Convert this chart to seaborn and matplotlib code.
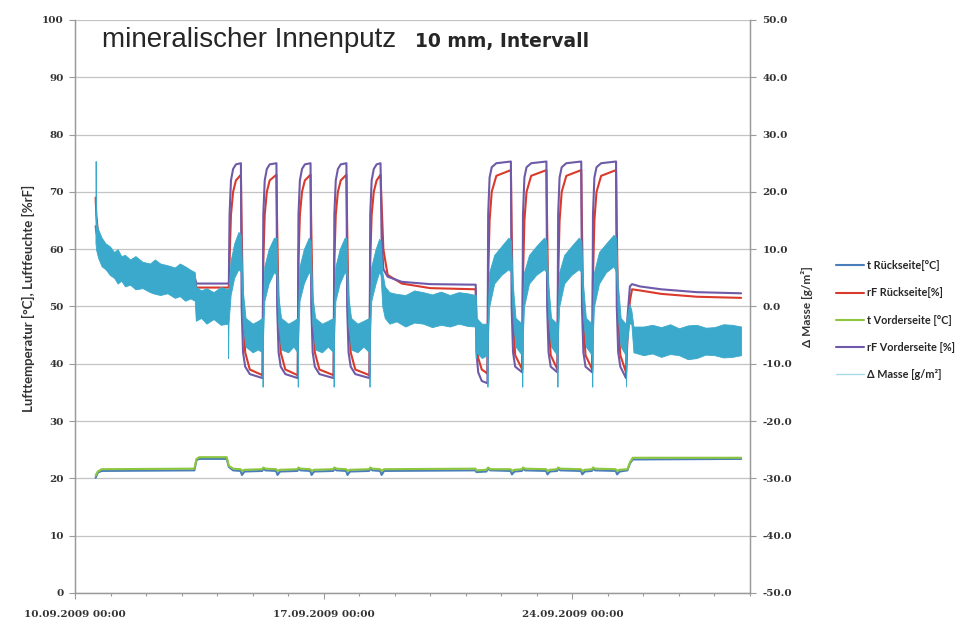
import matplotlib
matplotlib.use("Agg")
import matplotlib.pyplot as plt
import matplotlib.dates as mdates
from matplotlib.lines import Line2D
from matplotlib.ticker import FixedLocator, FormatStrFormatter, MultipleLocator
import pandas as pd
import seaborn as sns

# time in days after 10.09.2009 00:00
rf_days = [0.58, 0.60, 0.65, 0.75, 0.98, 1.41, 2.11, 2.81, 3.37, 3.42, 4.31,
           4.33, 4.35, 4.39, 4.45, 4.53, 4.67, 4.69, 4.73, 4.79, 4.92,
           5.28, 5.30, 5.34, 5.40, 5.48, 5.67, 5.69, 5.73, 5.79, 5.92,
           6.27, 6.29, 6.33, 6.39, 6.47, 6.63, 6.65, 6.69, 6.75, 6.88,
           7.28, 7.30, 7.34, 7.40, 7.48, 7.64, 7.66, 7.70, 7.76, 7.89,
           8.29, 8.31, 8.35, 8.41, 8.49, 8.60, 8.63, 8.68, 8.80, 9.20, 10.00, 11.28,
           11.30, 11.35, 11.45,
           11.61, 11.63, 11.67, 11.73, 11.86, 12.27, 12.29, 12.33, 12.39,
           12.59, 12.61, 12.65, 12.71, 12.84, 13.27, 13.29, 13.33, 13.39,
           13.58, 13.60, 13.64, 13.70, 13.83, 14.25, 14.27, 14.31, 14.37,
           14.56, 14.58, 14.62, 14.68, 14.81, 15.23, 15.25, 15.29, 15.35,
           15.51, 15.55, 15.62, 15.68, 15.90, 16.50, 17.50, 18.75]

rf_front = [64.0, 63.0, 61.5, 60.0, 58.8, 57.4, 56.2, 55.4, 55.0, 54.0, 54.0,
            54.0, 66.0, 72.0, 74.0, 74.8, 75.0, 50.0, 42.0, 39.5, 38.2,
            37.5, 66.0, 72.0, 74.0, 74.8, 75.0, 50.0, 42.0, 39.5, 38.2,
            37.5, 66.0, 72.0, 74.0, 74.8, 75.0, 50.0, 42.0, 39.5, 38.2,
            37.5, 66.0, 72.0, 74.0, 74.8, 75.0, 50.0, 42.0, 39.5, 38.2,
            37.5, 66.0, 72.0, 74.0, 74.8, 75.0, 62.0, 56.5, 55.2, 54.3, 53.9, 53.8,
            42.0, 38.5, 37.0,
            36.6, 66.0, 72.5, 74.3, 75.0, 75.3, 50.0, 42.0, 39.5,
            38.5, 66.0, 72.5, 74.3, 75.0, 75.3, 50.0, 42.0, 39.5,
            38.5, 66.0, 72.5, 74.3, 75.0, 75.3, 50.0, 42.0, 39.5,
            38.5, 66.0, 72.5, 74.3, 75.0, 75.3, 50.0, 42.0, 39.5,
            37.5, 48.0, 53.5, 53.9, 53.5, 53.0, 52.5, 52.3]

rf_back = [69.0, 66.0, 62.5, 60.5, 59.0, 57.4, 56.0, 55.2, 54.7, 53.3, 53.3,
           53.3, 58.0, 66.0, 70.0, 72.0, 73.0, 64.0, 50.0, 42.0, 39.0,
           38.0, 58.0, 66.0, 70.0, 72.0, 73.0, 64.0, 50.0, 42.0, 39.0,
           38.0, 58.0, 66.0, 70.0, 72.0, 73.0, 64.0, 50.0, 42.0, 39.0,
           38.0, 58.0, 66.0, 70.0, 72.0, 73.0, 64.0, 50.0, 42.0, 39.0,
           38.0, 58.0, 66.0, 70.0, 72.0, 73.0, 68.0, 60.0, 55.5, 54.0, 53.2, 53.0,
           48.0, 41.0, 39.0,
           38.3, 55.0, 65.0, 70.0, 72.8, 73.8, 64.0, 48.0, 41.5,
           39.0, 55.0, 65.0, 70.0, 72.8, 73.8, 64.0, 48.0, 41.5,
           39.0, 55.0, 65.0, 70.0, 72.8, 73.8, 64.0, 48.0, 41.5,
           39.0, 55.0, 65.0, 70.0, 72.8, 73.8, 64.0, 48.0, 41.5,
           38.5, 44.0, 51.0, 53.0, 52.8, 52.2, 51.7, 51.5]

temp_days = [0.58, 0.64, 0.75, 3.36, 3.42, 3.50, 4.27, 4.33, 4.45,
             4.66, 4.70, 4.77, 5.27, 5.30, 5.36,
             5.66, 5.70, 5.77, 6.26, 6.29, 6.35,
             6.62, 6.66, 6.73, 7.27, 7.30, 7.36,
             7.63, 7.67, 7.74, 8.28, 8.31, 8.37,
             8.59, 8.63, 8.70, 11.27, 11.30, 11.58, 11.63, 11.69,
             12.26, 12.30, 12.37, 12.58, 12.61, 12.67,
             13.26, 13.30, 13.37, 13.57, 13.60, 13.66,
             14.24, 14.28, 14.35, 14.55, 14.58, 14.64,
             15.22, 15.26, 15.33, 15.55, 15.62, 15.70, 18.75]

t_back = [20.1, 21.0, 21.3, 21.4, 23.2, 23.4, 23.4, 22.0, 21.4,
          21.3, 20.6, 21.2, 21.3, 21.7, 21.4,
          21.3, 20.6, 21.2, 21.3, 21.7, 21.4,
          21.3, 20.6, 21.2, 21.3, 21.7, 21.4,
          21.3, 20.6, 21.2, 21.3, 21.7, 21.4,
          21.3, 20.6, 21.3, 21.4, 21.1, 21.2, 21.7, 21.4,
          21.3, 20.7, 21.2, 21.3, 21.7, 21.4,
          21.3, 20.7, 21.2, 21.3, 21.7, 21.4,
          21.3, 20.7, 21.2, 21.3, 21.7, 21.4,
          21.3, 20.7, 21.2, 21.4, 22.6, 23.3, 23.4]

t_front = [20.5, 21.2, 21.6, 21.7, 23.4, 23.7, 23.7, 22.2, 21.7,
           21.6, 21.3, 21.5, 21.6, 21.9, 21.7,
           21.6, 21.3, 21.5, 21.6, 21.9, 21.7,
           21.6, 21.3, 21.5, 21.6, 21.9, 21.7,
           21.6, 21.3, 21.5, 21.6, 21.9, 21.7,
           21.6, 21.3, 21.6, 21.7, 21.4, 21.5, 21.9, 21.6,
           21.6, 21.3, 21.5, 21.6, 21.9, 21.7,
           21.6, 21.3, 21.5, 21.6, 21.9, 21.7,
           21.6, 21.3, 21.5, 21.6, 21.9, 21.7,
           21.6, 21.3, 21.5, 21.6, 22.8, 23.6, 23.6]

# delta mass [g/m2]: lower and upper edge of the noisy trace
mass_days = [0.575, 0.58, 0.59, 0.65, 0.75, 0.86, 0.98, 1.10, 1.20, 1.30, 1.41, 1.55, 1.70, 1.90, 2.11, 2.25, 2.40, 2.60,
             2.81, 2.95, 3.10, 3.25, 3.37, 3.40, 3.55, 3.70, 3.90, 4.10, 4.30, 4.31, 4.32,
             4.38, 4.48, 4.60, 4.67, 4.72, 4.80, 5.00, 5.15, 5.27, 5.28,
             5.29, 5.33, 5.45, 5.60, 5.67, 5.72, 5.80, 6.00, 6.15, 6.26, 6.27,
             6.28, 6.32, 6.44, 6.58, 6.63, 6.68, 6.76, 6.95, 7.12, 7.27, 7.28,
             7.29, 7.33, 7.45, 7.59, 7.64, 7.69, 7.77, 7.95, 8.12, 8.28, 8.29,
             8.30, 8.34, 8.46, 8.56, 8.60, 8.65, 8.72, 8.85, 9.05, 9.30, 9.55, 9.80, 10.05, 10.30,
             10.55, 10.80, 11.05, 11.27, 11.28,
             11.30, 11.45, 11.60, 11.61,
             11.62, 11.66, 11.80, 12.00, 12.20, 12.27, 12.32, 12.40, 12.58, 12.59,
             12.60, 12.64, 12.78, 12.98, 13.20, 13.27, 13.32, 13.40, 13.57, 13.58,
             13.59, 13.63, 13.77, 13.97, 14.18, 14.25, 14.30, 14.38, 14.55, 14.56,
             14.57, 14.61, 14.75, 14.95, 15.16, 15.23, 15.28, 15.36, 15.50, 15.51,
             15.53, 15.60, 15.66, 15.72, 16.00, 16.25, 16.50, 16.75, 17.00, 17.25, 17.50, 17.75,
             18.00, 18.25, 18.50, 18.75]

mass_lo = [11, 11, 10, 8.5, 7, 6.5, 5.5, 5, 4, 4.5, 3.5, 3.8, 3, 3.2, 2.5, 2.2, 2, 2.3,
           1.5, 1.8, 1, 1.4, 1, -2.5, -2, -3, -2.2, -3.2, -3, -9, -3,
           2, 5, 6.5, 6, -3, -7, -8, -7.5, -8, -14,
           -6, 1, 4, 6, 5.5, -3, -7.5, -8, -7, -8, -14,
           -6, 1, 4, 6, 5.5, -3, -7.5, -8, -7, -8, -14,
           -6, 1, 4, 6, 5.5, -3, -7.5, -8, -7, -8, -14,
           -6, 1, 4, 6, 5.5, 0, -2, -3, -2.6, -3.5, -2.8, -3, -3.6, -3.2,
           -3.5, -3, -3.4, -3.5, -9,
           -8, -9, -8.5, -14,
           -6, 0, 4, 5.5, 6.5, 6, -2, -7, -8.5, -14,
           -6, 0, 4, 5.5, 6.5, 6, -2, -7, -8.5, -14,
           -6, 0, 4, 5.5, 6.5, 6, -2, -7, -8.5, -14,
           -6, 0, 4, 6, 7, 6, -2, -7, -8.5, -14,
           -7, -3, -3, -8, -8.5, -8.2, -8.8, -8.3, -8.5, -9.2, -9, -8.4,
           -8.5, -8.9, -8.8, -8.5]

mass_hi = [12, 25.4, 15, 13.5, 12, 11, 10.5, 9.5, 10, 8.8, 9, 8.2, 8.8, 7.8, 7.5, 8.2, 7.5, 7.2,
           6.8, 7.5, 7, 6.4, 6, 3.5, 2.8, 3.2, 2.5, 3.4, 3, 3, 3,
           8, 11, 13, 12.5, 3, -2, -3, -2.5, -2, -2,
           0, 7, 10, 12, 12, 2, -2, -3, -2.5, -2, -2,
           0, 7, 10, 12, 11.5, 2, -2, -3, -2.5, -2, -2,
           0, 7, 10, 12, 12, 2, -2, -3, -2.5, -2, -2,
           0, 7, 10, 11.8, 11.5, 6, 3.5, 2.5, 2.2, 2, 2.8, 2.5, 2.1, 2.6,
           2, 2.5, 2.3, 2, 2,
           -2, -3, -3, -3,
           0, 6, 9, 10.5, 12, 11.5, 4, -2, -3, -3,
           0, 6, 9, 10.5, 12, 11.5, 4, -2, -3, -3,
           0, 6, 9, 10.5, 12, 11.5, 4, -2, -3, -3,
           0, 6, 9.5, 11, 12.5, 12, 4, -2, -3, -3,
           -2, 0.5, -0.6, -3.5, -3.5, -3.2, -3.6, -3.1, -3.8, -3.3, -3.2, -3.7,
           -3.6, -3.1, -3.2, -3.5]

series_names = ['t Rückseite[°C]', 'rF Rückseite[%]', 't Vorderseite [°C]', 'rF Vorderseite [%]']
mass_name = 'Δ Masse [g/m²]'
colors = ['#4a7ebb', '#d93a2b', '#8cc63e', '#6e5aa8']
mass_color = '#3aa9cb'
xtick_dates = ['2009-09-10', '2009-09-17', '2009-09-24']

sns.set_theme(style='ticks')
plt.rcParams['axes.unicode_minus'] = False

start = pd.Timestamp('2009-09-10')


def to_time(days):
    return start + pd.to_timedelta(days, unit='D')


rf = pd.DataFrame({'time': to_time(rf_days), series_names[1]: rf_back, series_names[3]: rf_front})
temp = pd.DataFrame({'time': to_time(temp_days), series_names[0]: t_back, series_names[2]: t_front})
long = pd.concat([temp.melt('time', var_name='series'), rf.melt('time', var_name='series')])

fig, ax = plt.subplots(figsize=(9.63, 6.24), dpi=100)
fig.subplots_adjust(left=0.0779, right=0.7788, bottom=0.0497, top=0.968)

sns.lineplot(data=long, x='time', y='value', hue='series', hue_order=series_names,
             palette=colors, estimator=None, lw=1.5, legend=False, ax=ax)

ax2 = ax.twinx()
mass_t = to_time(mass_days)
ax2.fill_between(mass_t, mass_lo, mass_hi, color=mass_color, lw=0.6, edgecolor=mass_color)

ax.set_xlim(to_time(0), to_time(19))
ax.set_ylim(0, 100)
ax2.set_ylim(-50, 50)
ax.yaxis.set_major_locator(MultipleLocator(10))
ax2.yaxis.set_major_locator(MultipleLocator(10))
ax2.yaxis.set_major_formatter(FormatStrFormatter('%.1f'))
ax.xaxis.set_major_locator(FixedLocator(mdates.date2num(pd.to_datetime(xtick_dates))))
ax.xaxis.set_major_formatter(mdates.DateFormatter('%d.%m.%Y %H:%M'))
ax.xaxis.set_minor_locator(mdates.DayLocator())
ax.grid(axis='y', color='#c4c4c4', lw=0.9)
ax.set_xlabel('')
ax.set_ylabel('Lufttemperatur [°C], Luftfeuchte [%rF]', fontsize=9.5, fontweight='bold',
              family='Lato', color='#333333')
ax.yaxis.set_label_coords(-0.059, 0.515)
ax2.set_ylabel(mass_name, fontsize=8.5, fontweight='bold', family='Lato', color='#333333')
ax2.yaxis.set_label_coords(1.075, 0.5)

tick_font = dict(family='DejaVu Serif', weight='bold', size=7.5)
for a in (ax, ax2):
    for lab in a.get_xticklabels() + a.get_yticklabels():
        lab.set_fontproperties(tick_font)
        lab.set_color('#333333')
    for side in ('left', 'right', 'bottom'):
        a.spines[side].set_color('#9a9a9a')
        a.spines[side].set_linewidth(0.9)
    a.spines['top'].set_visible(False)
ax.tick_params(axis='y', which='major', length=4, width=0.8, color='#9a9a9a', pad=4)
ax.tick_params(axis='x', which='major', length=4, width=0.8, color='#9a9a9a', pad=8)
ax.tick_params(axis='x', which='minor', length=2.5, width=0.8, color='#9a9a9a')
ax2.tick_params(axis='y', length=4, width=0.8, color='#9a9a9a', pad=5)

title = ax.text(0.0396, 0.9534, 'mineralischer Innenputz', transform=ax.transAxes,
                family='Liberation Sans', fontsize=20, va='baseline', ha='left')
fig.canvas.draw()
bb = title.get_window_extent()
x_end = ax.transAxes.inverted().transform((bb.x1, bb.y0))[0]
ax.text(x_end + 0.028, 0.9534, '10 mm, Intervall', transform=ax.transAxes,
        family='DejaVu Sans', fontweight='bold', fontsize=13.5, va='baseline', ha='left')

handles = [Line2D([], [], color=c, lw=1.5) for c in colors]
handles.append(Line2D([], [], color='#a9d9e8', lw=1.0))
fig.legend(handles, series_names + [mass_name], loc='center left',
           bbox_to_anchor=(0.858, 0.487), frameon=False, handlelength=2.6, handletextpad=0.3,
           labelspacing=1.5, prop=dict(family='Lato', weight='bold', size=7.8))

fig.savefig('out.png', dpi=100)
